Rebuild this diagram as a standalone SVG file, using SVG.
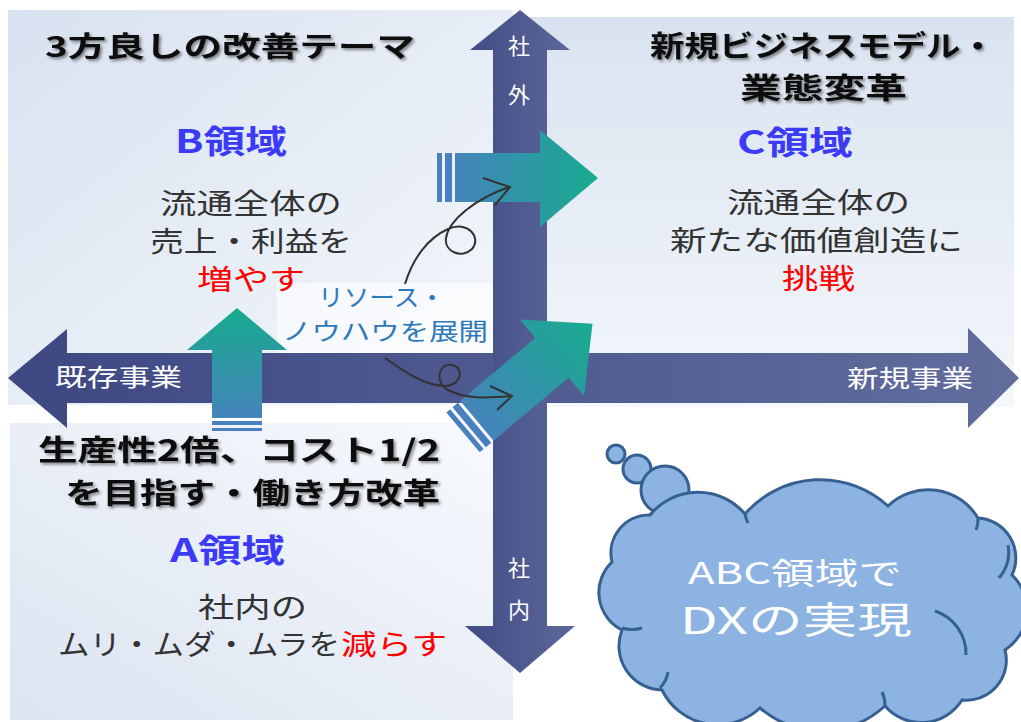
<svg xmlns="http://www.w3.org/2000/svg" width="1021" height="722" viewBox="0 0 1021 722">
<defs>
  <linearGradient id="gTL" x1="0" y1="0" x2="1" y2="1">
    <stop offset="0" stop-color="#d8e2f0"/>
    <stop offset="1" stop-color="#f5f8fc"/>
  </linearGradient>
  <linearGradient id="gTR" x1="0" y1="0" x2="0" y2="1">
    <stop offset="0" stop-color="#d9e3f0"/>
    <stop offset="1" stop-color="#f4f7fb"/>
  </linearGradient>
  <linearGradient id="gBL" x1="1" y1="0" x2="0" y2="1">
    <stop offset="0" stop-color="#f8fafd"/>
    <stop offset="1" stop-color="#dbe4f1"/>
  </linearGradient>
  <linearGradient id="gAxH" gradientUnits="userSpaceOnUse" x1="8" y1="0" x2="1020" y2="0">
    <stop offset="0" stop-color="#3d4883"/>
    <stop offset="1" stop-color="#616d9d"/>
  </linearGradient>
  <linearGradient id="gAxV" gradientUnits="userSpaceOnUse" x1="470" y1="0" x2="575" y2="0">
    <stop offset="0" stop-color="#424d87"/>
    <stop offset="1" stop-color="#5c6899"/>
  </linearGradient>
  <linearGradient id="gTealH" gradientUnits="userSpaceOnUse" x1="437" y1="0" x2="598" y2="0">
    <stop offset="0" stop-color="#4a7fc0"/>
    <stop offset="1" stop-color="#17ab8e"/>
  </linearGradient>
  <linearGradient id="gTealD" gradientUnits="userSpaceOnUse" x1="-13" y1="0" x2="156" y2="0">
    <stop offset="0" stop-color="#4a7fc0"/>
    <stop offset="1" stop-color="#17ab8e"/>
  </linearGradient>
  <linearGradient id="gTealV" gradientUnits="userSpaceOnUse" x1="0" y1="308" x2="0" y2="432">
    <stop offset="0" stop-color="#17ab8e"/>
    <stop offset="1" stop-color="#4a7fc0"/>
  </linearGradient>
  <filter id="shadow" x="-5%" y="-20%" width="110%" height="150%">
    <feDropShadow dx="2" dy="2" stdDeviation="1.5" flood-color="#000" flood-opacity="0.45"/>
  </filter>
</defs>
<style>
  text { font-family: "Noto Sans CJK JP", "Noto Sans", sans-serif; }
  .title { font-weight: 700; fill: #111; filter: url(#shadow); }
  .region { font-weight: 700; fill: #3b3bf7; font-size: 32px; }
  .body { fill: #333; font-size: 28px; }
  .red { fill: #ff0000; font-size: 28px; }
  .axis { fill: #ffffff; font-size: 24px; }
  .vaxis { fill: #ffffff; font-size: 22px; }
  .label { fill: #2e79ba; font-size: 24px; }
  .cloudtxt { fill: #ffffff; }
  .curl { fill: none; stroke: #333; stroke-width: 2; }
</style>

<rect x="0" y="0" width="1021" height="722" fill="#ffffff"/>

<g id="panels">
  <rect x="8" y="10" width="505" height="395" fill="url(#gTL)"/>
  <rect x="520" y="17" width="494" height="390" fill="url(#gTR)"/>
  <rect x="10" y="423" width="503" height="297" fill="url(#gBL)"/>
</g>

<g id="label-box">
  <rect x="277" y="283" width="216" height="70" fill="#ffffff" fill-opacity="0.6"/>
</g>

<g id="axis-horizontal">
  <polygon points="8,378 67,329 67,353 968,353 968,328 1019,378 968,428 968,403 67,403 67,428" fill="url(#gAxH)"/>
  <text class="axis" x="118.5" y="386" text-anchor="middle" textLength="127" lengthAdjust="spacingAndGlyphs">既存事業</text>
  <text class="axis" x="910" y="387" text-anchor="middle" textLength="126" lengthAdjust="spacingAndGlyphs">新規事業</text>
</g>

<g id="axis-vertical">
  <polygon points="520,10 570,50 547,50 547,626 575,626 520,673 465,626 493,626 493,50 470,50" fill="url(#gAxV)"/>
  <text class="vaxis" x="519" y="54" text-anchor="middle">社</text>
  <text class="vaxis" x="519" y="103" text-anchor="middle">外</text>
  <text class="vaxis" x="519" y="576" text-anchor="middle">社</text>
  <text class="vaxis" x="519" y="618" text-anchor="middle">内</text>
</g>

<g id="arrow-a-to-b">
  <polygon points="237,308 287,350 262,350 262,418 212,418 212,350 187,350" fill="url(#gTealV)"/>
  <rect x="212" y="421" width="50" height="4" fill="#4a7fc0"/>
  <rect x="212" y="428" width="50" height="3" fill="#4a7fc0"/>
</g>

<g id="arrow-b-to-c">
  <rect x="437" y="153" width="5" height="49" fill="#4a7fc0"/>
  <rect x="445" y="153" width="7" height="49" fill="#4a7fc0"/>
  <polygon points="455,153 540,153 540,130 598,178 540,227 540,202 455,202" fill="url(#gTealH)"/>
</g>

<g id="arrow-a-to-c" transform="translate(473,424) rotate(-40)">
  <rect x="-13" y="-26" width="5" height="52" fill="#4a7fc0"/>
  <rect x="-5" y="-26" width="7" height="52" fill="#4a7fc0"/>
  <polygon points="5,-26 103,-26 103,-50 156,0 103,50 103,26 5,26" fill="url(#gTealD)"/>
</g>

<g id="connectors">
  <path class="curl" d="M405,284 C413,258 428,238 448,229 C468,220 482,238 472,249 C462,259 444,252 446,238 C449,220 475,199 509,187"/>
  <path class="curl" d="M483,178 L510,187 L495,205"/>
  <path class="curl" d="M385,358 C405,372 425,386 445,386 C461,386 465,368 452,365 C440,362 434,380 446,389 C466,400 490,398 511,396"/>
  <path class="curl" d="M490,386 L512,396 L497,410"/>
</g>

<g id="label-text">
  <text class="label" x="381.5" y="306" text-anchor="middle" textLength="127" lengthAdjust="spacingAndGlyphs">リソース・</text>
  <text class="label" x="385" y="340" text-anchor="middle" textLength="206" lengthAdjust="spacingAndGlyphs">ノウハウを展開</text>
</g>

<g id="region-b">
  <text class="title" x="230" y="57" font-size="28" text-anchor="middle" textLength="370" lengthAdjust="spacingAndGlyphs">3方良しの改善テーマ</text>
  <text class="region" x="231" y="153" text-anchor="middle" textLength="112" lengthAdjust="spacingAndGlyphs">B領域</text>
  <text class="body" x="251" y="214" text-anchor="middle" textLength="182" lengthAdjust="spacingAndGlyphs">流通全体の</text>
  <text class="body" x="251" y="252" text-anchor="middle" textLength="202" lengthAdjust="spacingAndGlyphs">売上・利益を</text>
  <text class="red" x="251" y="290" text-anchor="middle" textLength="108" lengthAdjust="spacingAndGlyphs">増やす</text>
</g>

<g id="region-c">
  <text class="title" x="822.5" y="57" font-size="29" text-anchor="middle" textLength="345" lengthAdjust="spacingAndGlyphs">新規ビジネスモデル・</text>
  <text class="title" x="823.5" y="99" font-size="29" text-anchor="middle" textLength="167" lengthAdjust="spacingAndGlyphs">業態変革</text>
  <text class="region" x="795" y="154" text-anchor="middle" textLength="116" lengthAdjust="spacingAndGlyphs">C領域</text>
  <text class="body" x="818.5" y="213" text-anchor="middle" textLength="183" lengthAdjust="spacingAndGlyphs">流通全体の</text>
  <text class="body" x="816.5" y="251" text-anchor="middle" textLength="293" lengthAdjust="spacingAndGlyphs">新たな価値創造に</text>
  <text class="red" x="818.5" y="289" text-anchor="middle" textLength="73" lengthAdjust="spacingAndGlyphs">挑戦</text>
</g>

<g id="region-a">
  <text class="title" x="239" y="461" font-size="29" text-anchor="middle" textLength="402" lengthAdjust="spacingAndGlyphs">生産性2倍、コスト1/2</text>
  <text class="title" x="252.5" y="504" font-size="29" text-anchor="middle" textLength="375" lengthAdjust="spacingAndGlyphs">を目指す・働き方改革</text>
  <text class="region" x="227.5" y="562" text-anchor="middle" textLength="115" lengthAdjust="spacingAndGlyphs">A領域</text>
  <text class="body" x="252.5" y="618" text-anchor="middle" textLength="109" lengthAdjust="spacingAndGlyphs">社内の</text>
  <text class="body" x="58" y="655" textLength="282" lengthAdjust="spacingAndGlyphs">ムリ・ムダ・ムラを</text>
  <text class="red" x="341" y="655" textLength="106" lengthAdjust="spacingAndGlyphs">減らす</text>
</g>

<g id="cloud">
  <g fill="#8db3e2" stroke="#376092" stroke-width="3">
    <circle cx="616" cy="454" r="9"/>
    <circle cx="637" cy="469" r="14"/>
    <circle cx="665" cy="490" r="24"/>
    <path d="M612,562 A38,38 0 0 1 650,515 A62,62 0 0 1 745,514 A100,100 0 0 1 888,506 A58,58 0 0 1 978,518 A40,40 0 0 1 1012,575 A48,48 0 0 1 1005,650 A40,40 0 0 1 962,700 A48,48 0 0 1 885,706 A95,95 0 0 1 760,708 A62,62 0 0 1 662,690 A44,44 0 0 1 622,630 A42,42 0 0 1 612,562 Z"/>
  </g>
  <g fill="none" stroke="#376092" stroke-width="3">
    <path d="M935,611 A45,45 0 0 1 966,655"/>
    <path d="M999,578 A40,40 0 0 0 1008,545"/>
    <path d="M622,628 A35,35 0 0 0 642,628"/>
    <path d="M660,688 A30,30 0 0 0 668,672"/>
    <path d="M745,514 A30,30 0 0 0 748,523"/>
    <path d="M885,706 A30,30 0 0 0 882,692"/>
    <path d="M978,518 A25,25 0 0 1 976,530"/>
  </g>
  <text class="cloudtxt" x="795" y="584" font-size="30" text-anchor="middle" textLength="214" lengthAdjust="spacingAndGlyphs">ABC領域で</text>
  <text class="cloudtxt" x="796" y="634" font-size="37" text-anchor="middle" textLength="232" lengthAdjust="spacingAndGlyphs">DXの実現</text>
</g>
</svg>
